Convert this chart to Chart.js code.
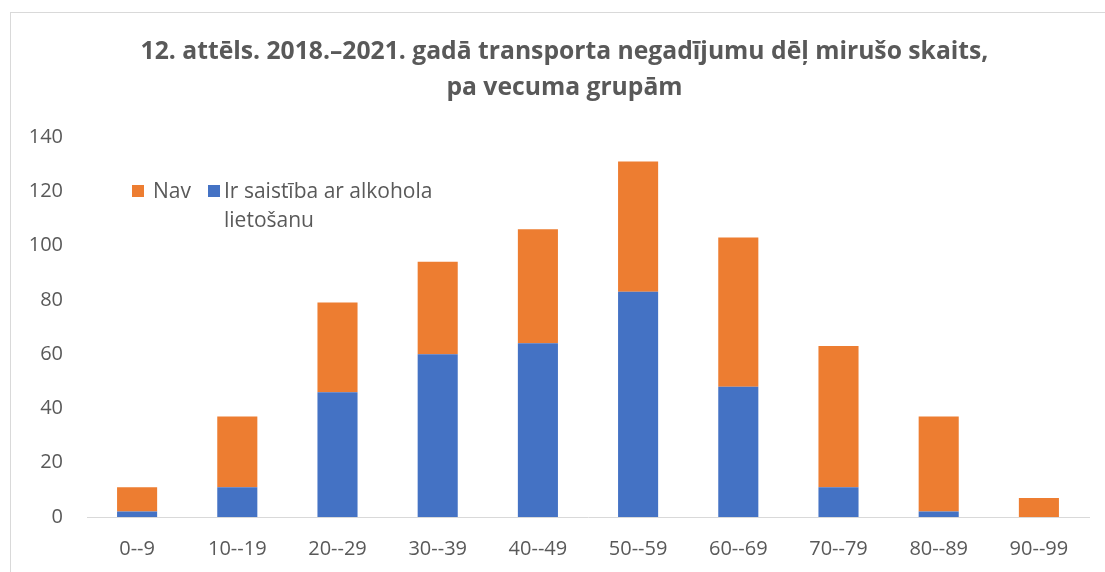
<!DOCTYPE html>
<html>
<head>
<meta charset="utf-8">
<script src="https://cdn.jsdelivr.net/npm/chart.js@4.4.0/dist/chart.umd.min.js"></script>
<style>
  html, body { margin: 0; padding: 0; background: #ffffff; overflow: hidden; width: 1105px; height: 572px; }
  #frame { position: absolute; left: 10px; top: 12px; width: 1120px; height: 590px; border: 1px solid #d9d9d9; background: #fff; }
  canvas { display: block; }
</style>
</head>
<body>
<div id="frame"><canvas id="c" width="1120" height="590"></canvas></div>
<script>
const titleLines = ['12. attēls. 2018.–2021. gadā transporta negadījumu dēļ mirušo skaits,', 'pa vecuma grupām'];
const categories = ['0--9', '10--19', '20--29', '30--39', '40--49', '50--59', '60--69', '70--79', '80--89', '90--99'];
const alcoholValues = [2, 11, 46, 60, 64, 83, 48, 11, 2, 0];
const noneValues = [9, 26, 33, 34, 42, 48, 55, 52, 35, 7];
const alcoholLabel = ['Ir saistība ar alkohola', 'lietošanu'];
const noneLabel = 'Nav';
const yTicks = [0, 20, 40, 60, 80, 100, 120, 140];

const BLUE = '#4472C4';
const ORANGE = '#ED7D31';
const TEXT = '#595959';
const FONT = '"Open Sans", Lato, sans-serif';

const legendPlugin = {
  id: 'customLegend',
  afterDraw(chart) {
    const ctx = chart.ctx;
    ctx.save();
    ctx.font = '21px ' + FONT;
    ctx.textBaseline = 'alphabetic';
    ctx.textAlign = 'left';
    ctx.fillStyle = ORANGE;
    ctx.fillRect(121, 172, 12, 12);
    ctx.fillStyle = TEXT;
    ctx.fillText(noneLabel, 142, 185);
    ctx.fillStyle = BLUE;
    ctx.fillRect(197, 172, 12, 12);
    ctx.fillStyle = TEXT;
    ctx.fillText(alcoholLabel[0], 213, 185);
    ctx.fillText(alcoholLabel[1], 213, 214);
    ctx.restore();
  }
};

new Chart(document.getElementById('c'), {
  type: 'bar',
  data: {
    labels: categories,
    datasets: [
      { label: alcoholLabel.join(' '), data: alcoholValues, backgroundColor: BLUE, borderWidth: 0 },
      { label: noneLabel, data: noneValues, backgroundColor: ORANGE, borderWidth: 0 }
    ]
  },
  options: {
    responsive: false,
    maintainAspectRatio: false,
    animation: false,
    layout: { padding: { left: 0, right: 13, top: 0, bottom: 0 } },
    datasets: { bar: { barPercentage: 0.4, categoryPercentage: 1.0 } },
    plugins: {
      legend: { display: false },
      tooltip: { enabled: false },
      title: {
        display: true,
        text: titleLines,
        color: TEXT,
        font: { family: FONT, size: 24.7, weight: 'bold', lineHeight: 36 / 24.7 },
        padding: { top: 21, bottom: 31 }
      }
    },
    scales: {
      x: {
        stacked: true,
        grid: { display: false, drawTicks: false },
        border: { display: true, color: '#d9d9d9', width: 1 },
        ticks: { color: TEXT, font: { family: FONT, size: 20 }, padding: 20, maxRotation: 0, autoSkip: false },
        afterFit(s) { s.height = 86; }
      },
      y: {
        stacked: true,
        min: 0,
        max: 140,
        afterBuildTicks(s) { s.ticks = yTicks.map(v => ({ value: v })); },
        grid: { display: false, drawTicks: false },
        border: { display: false },
        ticks: { color: TEXT, font: { family: FONT, size: 20 }, padding: 24 },
        afterFit(s) { s.width = 76; }
      },
      spacer: {
        type: 'linear',
        position: 'right',
        display: true,
        min: 0,
        max: 140,
        grid: { display: false, drawTicks: false },
        border: { display: false },
        ticks: { display: false },
        afterFit(s) { s.width = 29; }
      }
    }
  },
  plugins: [legendPlugin]
});
</script>
</body>
</html>
